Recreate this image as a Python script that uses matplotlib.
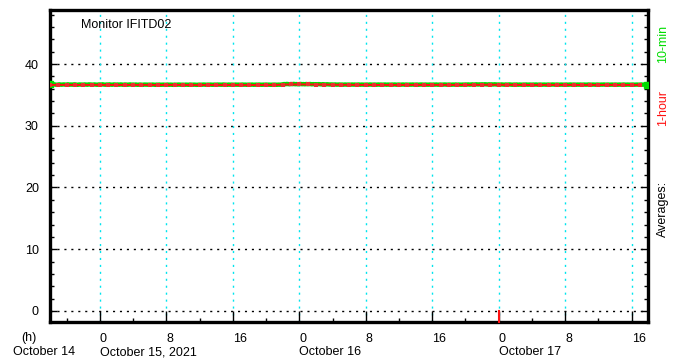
import datetime as dt

import matplotlib
matplotlib.use("Agg")
import matplotlib.dates as mdates
import matplotlib.pyplot as plt
import numpy as np
import pandas as pd
from matplotlib.ticker import MultipleLocator
from matplotlib.transforms import blended_transform_factory

plt.rcParams["font.family"] = ["Liberation Sans", "DejaVu Sans"]

MONITOR = "Monitor IFITD02"
T_START = dt.datetime(2021, 10, 14, 18, 0)
T_END = dt.datetime(2021, 10, 17, 18, 0)
NOW_MARK = dt.datetime(2021, 10, 17, 0, 0)

# 1-hour averages, Oct 14 18:00 .. Oct 17 17:00
hourly = [
    36.62, 36.63, 36.62, 36.61, 36.62, 36.63, 36.62, 36.62, 36.61, 36.62, 36.62, 36.63,
    36.62, 36.61, 36.62, 36.62, 36.61, 36.60, 36.60, 36.61, 36.60, 36.60, 36.61, 36.60,
    36.60, 36.61, 36.60, 36.61, 36.68, 36.70, 36.71, 36.70, 36.69, 36.68, 36.66, 36.64,
    36.63, 36.62, 36.62, 36.61, 36.62, 36.61, 36.61, 36.62, 36.62, 36.61, 36.62, 36.63,
    36.62, 36.61, 36.62, 36.63, 36.64, 36.65, 36.64, 36.63, 36.62, 36.62, 36.61, 36.62,
    36.62, 36.61, 36.62, 36.62, 36.61, 36.62, 36.61, 36.62, 36.61, 36.62, 36.61, 36.62,
]

# 10-minute averages, two hours per row
tenmin = [
    36.70, 36.66, 36.68, 36.72, 36.67, 36.65, 36.69, 36.71, 36.66, 36.68, 36.70, 36.67,
    36.68, 36.72, 36.66, 36.69, 36.67, 36.70, 36.71, 36.67, 36.65, 36.69, 36.68, 36.66,
    36.67, 36.70, 36.68, 36.66, 36.71, 36.69, 36.68, 36.66, 36.70, 36.67, 36.65, 36.69,
    36.70, 36.68, 36.72, 36.67, 36.66, 36.69, 36.68, 36.71, 36.67, 36.66, 36.70, 36.68,
    36.67, 36.69, 36.66, 36.70, 36.68, 36.65, 36.69, 36.67, 36.66, 36.68, 36.70, 36.66,
    36.68, 36.66, 36.69, 36.65, 36.67, 36.68, 36.66, 36.64, 36.68, 36.67, 36.65, 36.66,
    36.67, 36.65, 36.68, 36.66, 36.64, 36.67, 36.66, 36.68, 36.65, 36.66, 36.67, 36.64,
    36.66, 36.68, 36.65, 36.67, 36.66, 36.64, 36.67, 36.65, 36.66, 36.68, 36.66, 36.65,
    36.66, 36.64, 36.67, 36.66, 36.65, 36.68, 36.66, 36.65, 36.67, 36.66, 36.64, 36.66,
    36.67, 36.65, 36.66, 36.68, 36.66, 36.65, 36.67, 36.66, 36.68, 36.65, 36.66, 36.67,
    36.66, 36.68, 36.67, 36.65, 36.66, 36.69, 36.67, 36.66, 36.65, 36.68, 36.66, 36.67,
    36.66, 36.65, 36.68, 36.66, 36.67, 36.65, 36.66, 36.68, 36.66, 36.67, 36.65, 36.66,
    36.67, 36.66, 36.68, 36.65, 36.66, 36.67, 36.66, 36.68, 36.66, 36.65, 36.67, 36.66,
    36.68, 36.66, 36.67, 36.65, 36.66, 36.68, 36.67, 36.66, 36.65, 36.67, 36.66, 36.68,
    36.72, 36.76, 36.74, 36.78, 36.75, 36.73, 36.77, 36.75, 36.79, 36.74, 36.76, 36.73,
    36.75, 36.78, 36.74, 36.76, 36.73, 36.77, 36.74, 36.75, 36.77, 36.72, 36.75, 36.73,
    36.74, 36.72, 36.75, 36.73, 36.71, 36.74, 36.72, 36.70, 36.73, 36.71, 36.69, 36.70,
    36.69, 36.68, 36.70, 36.67, 36.68, 36.69, 36.67, 36.68, 36.66, 36.69, 36.67, 36.68,
    36.68, 36.66, 36.69, 36.67, 36.68, 36.66, 36.67, 36.69, 36.66, 36.68, 36.67, 36.66,
    36.67, 36.68, 36.66, 36.69, 36.67, 36.66, 36.68, 36.67, 36.66, 36.69, 36.67, 36.68,
    36.66, 36.67, 36.69, 36.66, 36.68, 36.67, 36.66, 36.68, 36.67, 36.69, 36.66, 36.67,
    36.68, 36.66, 36.67, 36.69, 36.66, 36.68, 36.67, 36.66, 36.68, 36.67, 36.69, 36.66,
    36.67, 36.68, 36.66, 36.67, 36.69, 36.67, 36.66, 36.68, 36.67, 36.66, 36.68, 36.67,
    36.66, 36.68, 36.67, 36.69, 36.66, 36.67, 36.68, 36.66, 36.67, 36.69, 36.67, 36.66,
    36.68, 36.67, 36.66, 36.68, 36.67, 36.69, 36.66, 36.68, 36.67, 36.66, 36.68, 36.67,
    36.69, 36.68, 36.70, 36.67, 36.69, 36.71, 36.68, 36.70, 36.72, 36.69, 36.71, 36.70,
    36.72, 36.70, 36.73, 36.71, 36.69, 36.72, 36.70, 36.71, 36.69, 36.72, 36.70, 36.68,
    36.69, 36.67, 36.70, 36.68, 36.66, 36.69, 36.67, 36.68, 36.70, 36.67, 36.66, 36.68,
    36.67, 36.69, 36.66, 36.68, 36.67, 36.66, 36.68, 36.67, 36.69, 36.66, 36.68, 36.67,
    36.66, 36.68, 36.67, 36.69, 36.66, 36.67, 36.68, 36.66, 36.67, 36.68, 36.66, 36.67,
    36.68, 36.66, 36.67, 36.69, 36.67, 36.66, 36.68, 36.67, 36.66, 36.68, 36.67, 36.66,
    36.67, 36.68, 36.66, 36.67, 36.69, 36.66, 36.68, 36.67, 36.66, 36.68, 36.67, 36.68,
    36.66, 36.67, 36.68, 36.66, 36.67, 36.69, 36.67, 36.66, 36.68, 36.67, 36.66, 36.68,
    36.67, 36.66, 36.68, 36.67, 36.69, 36.66, 36.67, 36.68, 36.66, 36.67, 36.68, 36.66,
    36.68, 36.67, 36.66, 36.68, 36.67, 36.66, 36.69, 36.67, 36.66, 36.68, 36.67, 36.66,
    36.67, 36.68, 36.66, 36.67, 36.68, 36.66, 36.67, 36.69, 36.66, 36.68, 36.67, 36.68,
]

date_labels = ["October 15, 2021", "October 16", "October 17"]
date_ticks = [dt.datetime(2021, 10, 15), dt.datetime(2021, 10, 16), dt.datetime(2021, 10, 17)]

t_hour = pd.date_range(T_START, periods=len(hourly), freq="1h")
t_10m = pd.date_range(T_START, periods=len(tenmin), freq="10min")

GREEN = "#00dd00"
RED = "#ff1010"
CYAN = "#00e5ee"

fig = plt.figure(figsize=(6.76, 3.63), dpi=100)
ax = fig.add_axes([0.074, 0.113, 0.885, 0.86])

ax.plot(t_10m, tenmin, color=GREEN, lw=3.2, zorder=3)
ax.plot([t_10m[0], t_10m[-1]], [tenmin[0], tenmin[-1]], ls="none",
        marker="s", ms=4, color=GREEN, zorder=3)
ax.plot(t_hour, hourly, color=RED, lw=1.4, marker="s", ms=2.2, mew=0,
        mfc="#e83030", zorder=4)

ax.set_xlim(T_START, T_END)
ax.set_ylim(-1.8, 48.8)

# grid: black dotted at the y majors, cyan dotted at the 8-hour marks
for yv in range(0, 50, 10):
    ax.axhline(yv, color="black", lw=1.0, ls=(0, (1.5, 3.5)), zorder=1)
ax.xaxis.set_major_locator(mdates.HourLocator(byhour=[0, 8, 16]))
ax.xaxis.set_minor_locator(mdates.HourLocator(byhour=range(0, 24, 4)))
ax.xaxis.set_major_formatter(mdates.DateFormatter("%-H"))
for xv in ax.get_xticks():
    ax.axvline(xv, color=CYAN, lw=1.0, ls=(0, (1.5, 3.5)), zorder=1)

ax.yaxis.set_major_locator(MultipleLocator(10))
ax.yaxis.set_minor_locator(MultipleLocator(2))

for s in ax.spines.values():
    s.set_linewidth(2.4)
ax.tick_params(axis="both", which="both", direction="in", labelsize=9,
               top=False, right=True, width=1.0)
ax.tick_params(axis="x", which="major", length=8, pad=8)
ax.tick_params(axis="x", which="minor", length=3)
ax.tick_params(axis="y", which="major", length=5, pad=8)
ax.tick_params(axis="y", which="minor", length=3)
for lbl in ax.get_xticklabels():
    lbl.set_ha("left")

# red tick at the current-day boundary
ax.plot([NOW_MARK, NOW_MARK], [-1.8, 0], color=RED, lw=1.5, zorder=5, clip_on=False)

trans = blended_transform_factory(ax.transData, fig.transFigure)
for d, lab in zip(date_ticks, date_labels):
    ax.text(d, 0.030, lab, transform=trans, ha="left", va="center", fontsize=9)
fig.text(0.043, 0.070, "(h)", ha="center", va="center", fontsize=9)
fig.text(0.065, 0.030, "October 14", ha="center", va="center", fontsize=9)

ax.text(0.051, 0.95, MONITOR, transform=ax.transAxes, ha="left", va="center", fontsize=9)

fig.text(0.981, 0.879, "10-min", color=GREEN, rotation=90, ha="center", va="center", fontsize=9)
fig.text(0.981, 0.702, "1-hour", color=RED, rotation=90, ha="center", va="center", fontsize=9)
fig.text(0.981, 0.424, "Averages:", color="black", rotation=90, ha="center", va="center", fontsize=9)

fig.savefig("out.png", dpi=100)
